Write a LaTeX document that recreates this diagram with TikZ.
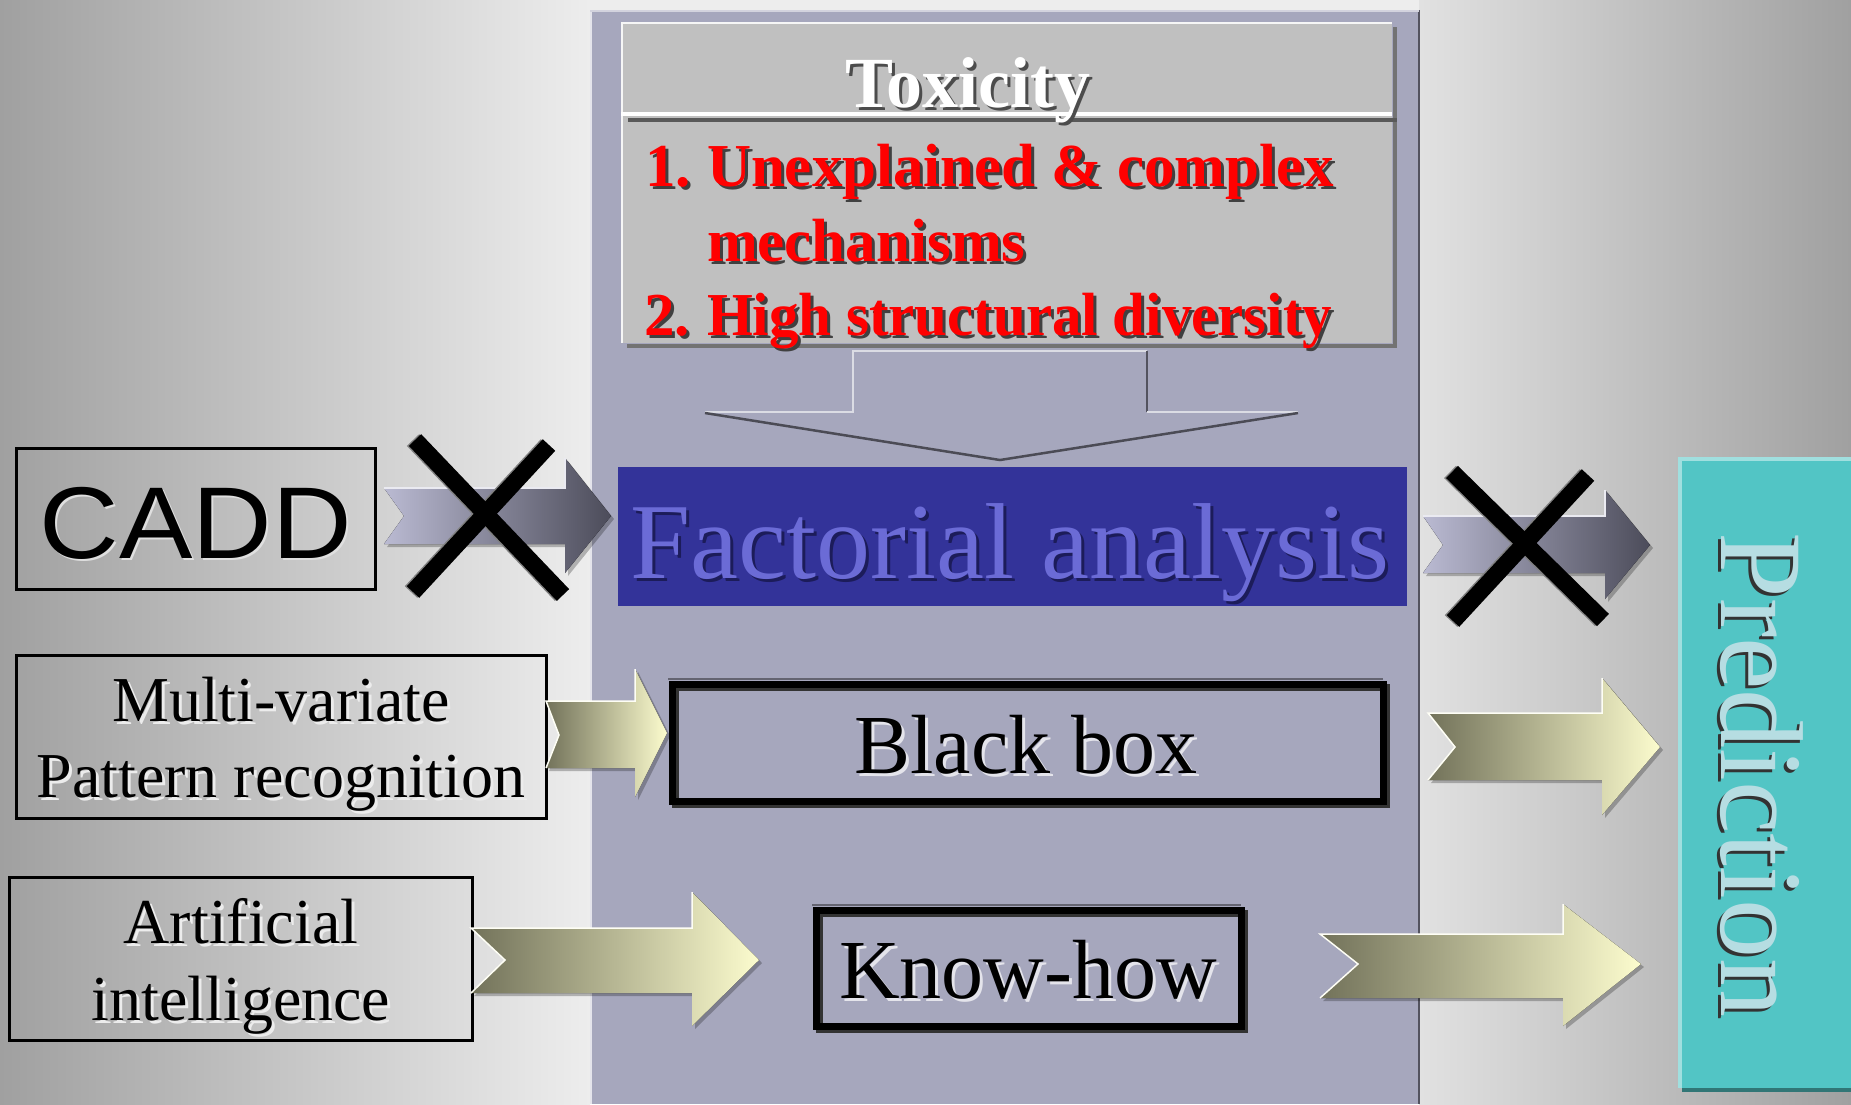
\documentclass[tikz,border=0pt]{standalone}
\usepackage{fontspec}
\usepackage{graphicx}
\setmainfont{Liberation Serif}
\newfontfamily\arialf[FakeStretch=1.08]{Liberation Sans}
\definecolor{panel}{HTML}{A6A7BD}
\definecolor{toxbg}{HTML}{C0C0C0}
\definecolor{fabg}{HTML}{333399}
\definecolor{fatext}{HTML}{6B6BD6}
\definecolor{fashadow}{HTML}{1C1C5A}
\definecolor{predbg}{HTML}{52C5C5}
\definecolor{predtext}{HTML}{B6DDE2}
\definecolor{redtxt}{HTML}{FF0000}
\definecolor{yelL}{HTML}{72725A}
\definecolor{yelR}{HTML}{FCFCCE}
\definecolor{gryL}{HTML}{BABAD2}
\definecolor{gryR}{HTML}{4C4C5A}
\definecolor{bgdark}{HTML}{A0A0A0}
\definecolor{bglight}{HTML}{EDEDED}
\tikzset{
  txt/.style={inner sep=0pt, outer sep=0pt, anchor=base},
  txtw/.style={inner sep=0pt, outer sep=0pt, anchor=base west},
  thinbox/.style={draw=black, line width=3},
  thickbox/.style={draw=black, line width=7},
  xbar/.style={line width=17, line cap=butt},
  yarrow/.style={left color=yelL, right color=yelR},
  garrow/.style={left color=gryL, right color=gryR},
  ashadow/.style={fill=black, opacity=0.25},
}
\newcommand{\midfont}{\fontsize{64}{70}\selectfont}
\newcommand{\bigfont}{\fontsize{84}{90}\selectfont}
\newcommand{\redfont}{\bfseries\fontsize{61}{66}\selectfont}
\begin{document}
\begin{tikzpicture}[x=1pt,y=-1pt]
\useasboundingbox (0,0) rectangle (1851,1104);
% background
\fill[bglight] (0,0) rectangle (1851,1104);
\fill[left color=bgdark, right color=bglight] (0,0) rectangle (590,1104);
\fill[left color=bglight!95!black, right color=bgdark] (1419,0) rectangle (1851,1104);
% central panel
\fill[panel] (590,10) rectangle (1419,1104);
\draw[line width=2, white!70!panel] (591,10) -- (591,1104);
\draw[line width=2, panel!50!black] (1419,10) -- (1419,1104);
\draw[line width=2, white!50!panel] (590,11) -- (1419,11);

% Toxicity box
\draw[line width=4, gray!90!black] (1395,27) -- (1395,346) -- (627,346);
\fill[toxbg] (621,22) rectangle (1392,343);
\draw[line width=2, white!85!toxbg] (622,343) -- (622,23) -- (1392,23);
\draw[line width=4, gray!70!black] (628,120) -- (1397,120);
\draw[line width=4, white] (621,114) -- (1392,114);
\node[txt, text=black!70, font=\bfseries\fontsize{72}{78}\selectfont] (toxS) at (971,110) {Toxicity};
\node[txt, text=white, font=\bfseries\fontsize{72}{78}\selectfont] (tox) at (968,107) {Toxicity};

\foreach \nm/\xx/\yy/\tt in {n1/645/186/{1.}, l1/707/186/{Unexplained \& complex}, l2/707/261/{mechanisms}, n2/644/335/{2.}, l3/707/335/{\scalebox{0.966}[1]{High structural diversity}}}{
  \node[txtw, text=black!75, font=\redfont] (\nm S) at (\xx+3,\yy+3) {\tt};
  \node[txtw, text=redtxt, font=\redfont] (\nm) at (\xx,\yy) {\tt};
}

% down arrow (outline)
\draw[line width=2, white!60!panel] (705,412) -- (853,412) -- (853,351) -- (1147,351);
\draw[line width=2, black!50!panel] (1147,351) -- (1147,412);
\draw[line width=2, white!60!panel] (1147,412) -- (1298,412);
\draw[line width=2.5, black!55!panel] (705,413) -- (1000,460) -- (1298,413);

% Factorial analysis
\fill[fabg] (618,467) rectangle (1407,606);
\node[txt, text=fashadow, font=\fontsize{108}{112}\selectfont] (faS) at (1013,581) {Factorial analysis};
\node[txt, text=fatext, font=\fontsize{108}{112}\selectfont] (fa) at (1010,578) {Factorial analysis};

% Black box
\draw[thickbox, black!80] (675,687) rectangle (1386,804);
\draw[thickbox] (672,684) rectangle (1383,801);
\draw[line width=2, black!40!panel] (668,679) -- (1383,679);
\node[txt, text=white!70!panel, font=\bigfont] (bbS) at (1029,776) {Black box};
\node[txt, text=black, font=\bigfont] (bb) at (1026,773) {Black box};

% Know-how
\draw[thickbox, black!80] (819,913) rectangle (1244,1029);
\draw[thickbox] (816,910) rectangle (1241,1026);
\draw[line width=2, black!40!panel] (812,905) -- (1241,905);
\node[txt, text=white!70!panel, font=\bigfont] (khS) at (1031,1001) {Know-how};
\node[txt, text=black, font=\bigfont] (kh) at (1028,998) {Know-how};

% CADD
\draw[thinbox] (16.5,448.5) rectangle (375.5,589.5);
\node[txt, text=white!75!gray, font=\arialf\fontsize{102}{110}\selectfont] (caddS) at (198,560) {CADD};
\node[txt, text=black, font=\arialf\fontsize{102}{110}\selectfont] (cadd) at (196,558) {CADD};

% Multi-variate
\draw[thinbox] (16.5,655.5) rectangle (546.5,818.5);
\node[txt, text=white!85!gray, font=\midfont] (mv1S) at (284,724) {Multi-variate};
\node[txt, text=black, font=\midfont] (mv1) at (281,721) {Multi-variate};
\node[txt, text=white!85!gray, font=\midfont] (mv2S) at (284,800) {Pattern recognition};
\node[txt, text=black, font=\midfont] (mv2) at (281,797) {Pattern recognition};

% Artificial intelligence
\draw[thinbox] (9.5,877.5) rectangle (472.5,1040.5);
\node[txt, text=white!85!gray, font=\midfont] (ai1S) at (244,946) {Artificial};
\node[txt, text=black, font=\midfont] (ai1) at (241,943) {Artificial};
\node[txt, text=white!85!gray, font=\midfont] (ai2S) at (244,1023) {intelligence};
\node[txt, text=black, font=\midfont] (ai2) at (241,1020) {intelligence};

% Prediction
\fill[predbg!60!black] (1682,461) rectangle (1851,1092);
\fill[predbg] (1678,457) rectangle (1851,1088);
\draw[line width=4, white!45!predbg] (1680,1088) -- (1680,459) -- (1851,459);
\node[txt, rotate=-90, text=black!80, font=\fontsize{118}{124}\selectfont] (predS) at (1718,778) {Prediction};
\node[txt, rotate=-90, text=predtext, font=\fontsize{118}{124}\selectfont] (pred) at (1721,775) {Prediction};

% gray arrows (crossed)
\fill[ashadow] (387,491) -- (568,491) -- (568,461) -- (614,519) -- (568,576) -- (568,547) -- (387,547) -- (407,519) -- cycle;
\fill[garrow] (384,488) -- (565,488) -- (565,458) -- (611,516) -- (565,573) -- (565,544) -- (384,544) -- (404,516) -- cycle;
\draw[line width=1.5, white!70!gryL] (384,488) -- (565,488) -- (565,458);
\fill[ashadow] (1426,519) -- (1608,519) -- (1608,493) -- (1653,548) -- (1608,602) -- (1608,576) -- (1426,576) -- (1446,547) -- cycle;
\fill[garrow] (1423,516) -- (1605,516) -- (1605,490) -- (1650,545) -- (1605,599) -- (1605,573) -- (1423,573) -- (1443,545) -- cycle;
\draw[line width=1.5, white!70!gryL] (1423,516) -- (1605,516) -- (1605,490);

% X marks
\draw[xbar, gray] (413,440) -- (561,595);
\draw[xbar, gray] (547,445) -- (411,592);
\draw[xbar, black] (415,440) -- (563,595);
\draw[xbar, black] (549,445) -- (413,592);
\draw[xbar, gray] (1450,472) -- (1601,620);
\draw[xbar, gray] (1586,475) -- (1451,621);
\draw[xbar, black] (1452,472) -- (1603,620);
\draw[xbar, black] (1588,475) -- (1453,621);

% yellow arrows
\fill[ashadow] (549,704) -- (638,704) -- (638,672) -- (670,736) -- (638,800) -- (638,771) -- (549,771) -- (562,738) -- cycle;
\fill[yarrow] (546,701) -- (635,701) -- (635,669) -- (667,733) -- (635,797) -- (635,768) -- (546,768) -- (559,735) -- cycle;
\draw[line width=1.5, white!80!yelR] (546,768) -- (559,735) -- (546,701) -- (635,701) -- (635,669);

\fill[ashadow] (1431,716) -- (1605,716) -- (1605,681) -- (1663,750) -- (1605,818) -- (1605,783) -- (1431,783) -- (1458,750) -- cycle;
\fill[yarrow] (1428,713) -- (1602,713) -- (1602,678) -- (1660,747) -- (1602,815) -- (1602,780) -- (1428,780) -- (1455,747) -- cycle;
\draw[line width=1.5, white!80!yelR] (1428,780) -- (1455,747) -- (1428,713) -- (1602,713) -- (1602,678);

\fill[ashadow] (474,931) -- (695,931) -- (695,895) -- (762,963) -- (695,1029) -- (695,996) -- (474,996) -- (508,963) -- cycle;
\fill[yarrow] (471,928) -- (692,928) -- (692,892) -- (759,960) -- (692,1026) -- (692,993) -- (471,993) -- (505,960) -- cycle;
\draw[line width=1.5, white!80!yelR] (471,993) -- (505,960) -- (471,928) -- (692,928) -- (692,892);

\fill[ashadow] (1323,937) -- (1566,937) -- (1566,907) -- (1644,967) -- (1566,1029) -- (1566,1001) -- (1323,1001) -- (1361,967) -- cycle;
\fill[yarrow] (1320,934) -- (1563,934) -- (1563,904) -- (1641,964) -- (1563,1026) -- (1563,998) -- (1320,998) -- (1358,964) -- cycle;
\draw[line width=1.5, white!80!yelR] (1320,998) -- (1358,964) -- (1320,934) -- (1563,934) -- (1563,904);
\end{tikzpicture}
\end{document}
